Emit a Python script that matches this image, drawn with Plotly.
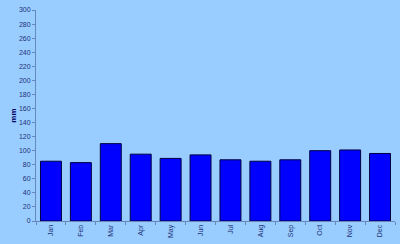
import plotly.graph_objects as go

months = ["Jan", "Feb", "Mar", "Apr", "May", "Jun", "Jul", "Aug", "Sep", "Oct", "Nov", "Dec"]
rain_mm = [85, 83, 110, 95, 89, 94, 87, 85, 87, 100, 101, 96]
y_ticks = list(range(0, 301, 20))

fig = go.Figure(go.Bar(
    x=months, y=rain_mm,
    marker=dict(color="#0000FF", line=dict(color="#000040", width=1)),
))
fig.update_layout(
    width=400, height=244,
    margin=dict(l=36, r=5, t=10, b=23),
    paper_bgcolor="#99CCFF", plot_bgcolor="#99CCFF",
    bargap=0.3, showlegend=False,
    font=dict(family="Liberation Sans, Arial", size=7, color="#223377"),
)
fig.update_xaxes(
    type="category", tickangle=-90, tickson="boundaries",
    ticks="outside", ticklen=3, tickcolor="#6688BB",
    showline=True, linecolor="#6688BB", linewidth=1,
    showgrid=False, tickfont=dict(size=7, color="#223377"),
)
fig.update_yaxes(
    range=[0, 300], tickvals=y_ticks,
    ticks="outside", ticklen=3, tickcolor="#6688BB",
    showline=True, linecolor="#6688BB", linewidth=1,
    showgrid=False, zeroline=False, tickfont=dict(size=7, color="#223377"),
    title=dict(text="<b>mm</b>", font=dict(size=8, color="#000066"), standoff=1),
)
fig.write_html("out.html")
